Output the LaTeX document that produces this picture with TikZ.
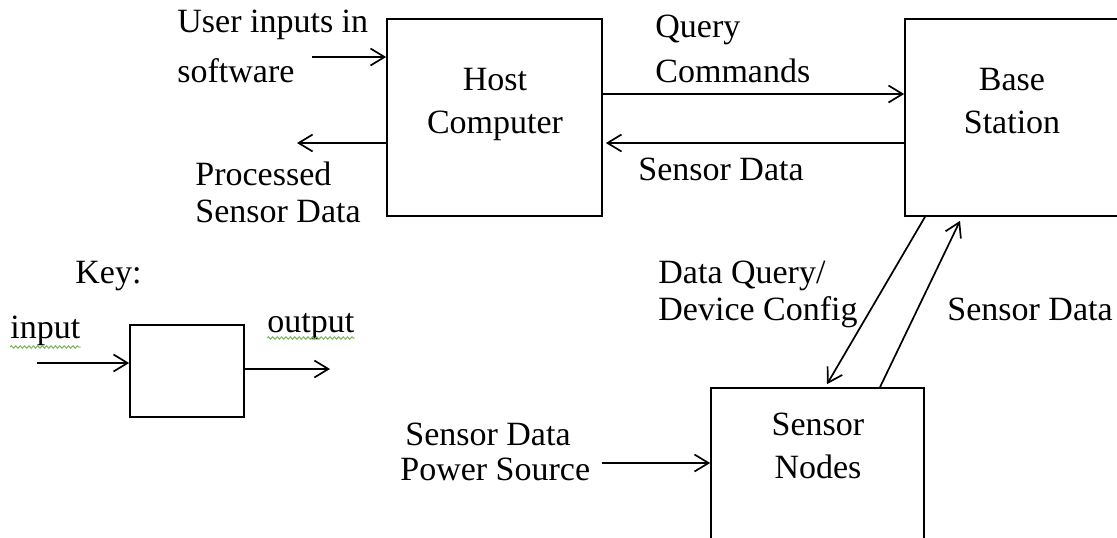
\documentclass[tikz,border=0pt]{standalone}
\usepackage{fontspec}
\setmainfont{Liberation Serif}
\usetikzlibrary{arrows.meta,decorations.pathmorphing}

\tikzset{
  lsk/.style={font=\fontsize{17}{#1}\selectfont},
  txt/.style={inner sep=0pt, anchor=base west, align=left, lsk=21.5},
  ctxt/.style={inner sep=0pt, anchor=base, align=center, lsk=21.5},
  blockbox/.style={draw, line width=0.85pt, inner sep=0pt},
  arr/.style={line width=0.85pt, -{Straight Barb[length=7pt,width=8.5pt,line width=0.85pt]}},
  squiggle/.style={draw=spellgreen, line width=0.5pt,
    decorate, decoration={snake, amplitude=0.6pt, segment length=2.2pt}},
}
\definecolor{spellgreen}{RGB}{120,180,90}

\begin{document}
\begin{tikzpicture}[x=0.5pt, y=-0.5pt]
  \clip (0,0) rectangle (1117,537);

  % main blocks
  \node[blockbox, minimum width=107.5pt, minimum height=98.5pt] (host) at (494.5,117.5) {};
  \node[blockbox, minimum width=107.5pt, minimum height=98.5pt] (base) at (1012.5,117.5) {};
  \node[blockbox, minimum width=106.5pt, minimum height=106pt] (sensor) at (817.5,494) {};

  % block titles (positioned on the baseline of their last line)
  \node[ctxt] (hostlbl) at (495,133) {Host\\Computer};
  \node[ctxt] (baselbl) at (1012,133) {Base\\Station};
  \node[ctxt] (sensorlbl) at (818,478) {Sensor\\Nodes};

  % host computer connections
  \coordinate (userin) at (312,57);
  \coordinate (procout) at (297,143);
  \draw[arr] (userin) -- ([yshift=30.25pt]host.west);
  \draw[arr] ([yshift=-12.75pt]host.west) -- (procout);
  \node[txt, lsk=25] (userlbl) at (177,82) {User inputs in\\software};
  \node[txt, lsk=18.5] (proclbl) at (195,222) {Processed\\Sensor Data};

  % host <-> base station
  \draw[arr] ([yshift=11.75pt]host.east) -- ([yshift=11.75pt]base.west);
  \draw[arr] ([yshift=-12.75pt]base.west) -- ([yshift=-12.75pt,xshift=1.5pt]host.east);
  \node[txt, lsk=22.5] (querylbl) at (655,82) {Query\\Commands};
  \node[txt] (sdlbl) at (638,180) {Sensor Data};

  % base station <-> sensor nodes
  \draw[arr] ([xshift=-43.75pt]base.south) -- ([xshift=4.75pt,yshift=1.5pt]sensor.north);
  \draw[arr] ([xshift=31.25pt]sensor.north) -- ([xshift=-26.25pt,yshift=-2pt]base.south);
  \node[txt, lsk=18.5] (dqlbl) at (658,320) {Data Query/\\Device Config};
  \node[txt] (sdrlbl) at (947,320) {Sensor Data};

  % supply into the sensor nodes
  \coordinate (power) at (602,463);
  \draw[arr] (power) -- ([yshift=15.5pt]sensor.west);
  \node[txt, lsk=17.5] (powerlbl) at (400,480) {\hspace{2.5pt}Sensor Data\\Power Source};

  % key
  \node[txt] (keylbl) at (75,283) {Key:};
  \node[blockbox, minimum width=57pt, minimum height=46pt] (key) at (187,371) {};
  \coordinate (keyin) at (37,363);
  \coordinate (keyout) at (330,369);
  \draw[arr] (keyin) -- ([yshift=4pt]key.west);
  \draw[arr] ([yshift=1pt]key.east) -- (keyout);
  \node[txt] (inlbl) at (10,338) {input};
  \node[txt] (outlbl) at (267,332) {output};
  \draw[squiggle] ([yshift=-4.5pt]inlbl.base west) -- ([yshift=-4.5pt]inlbl.base east);
  \draw[squiggle] ([yshift=-3pt]outlbl.base west) -- ([yshift=-3pt]outlbl.base east);
\end{tikzpicture}
\end{document}
